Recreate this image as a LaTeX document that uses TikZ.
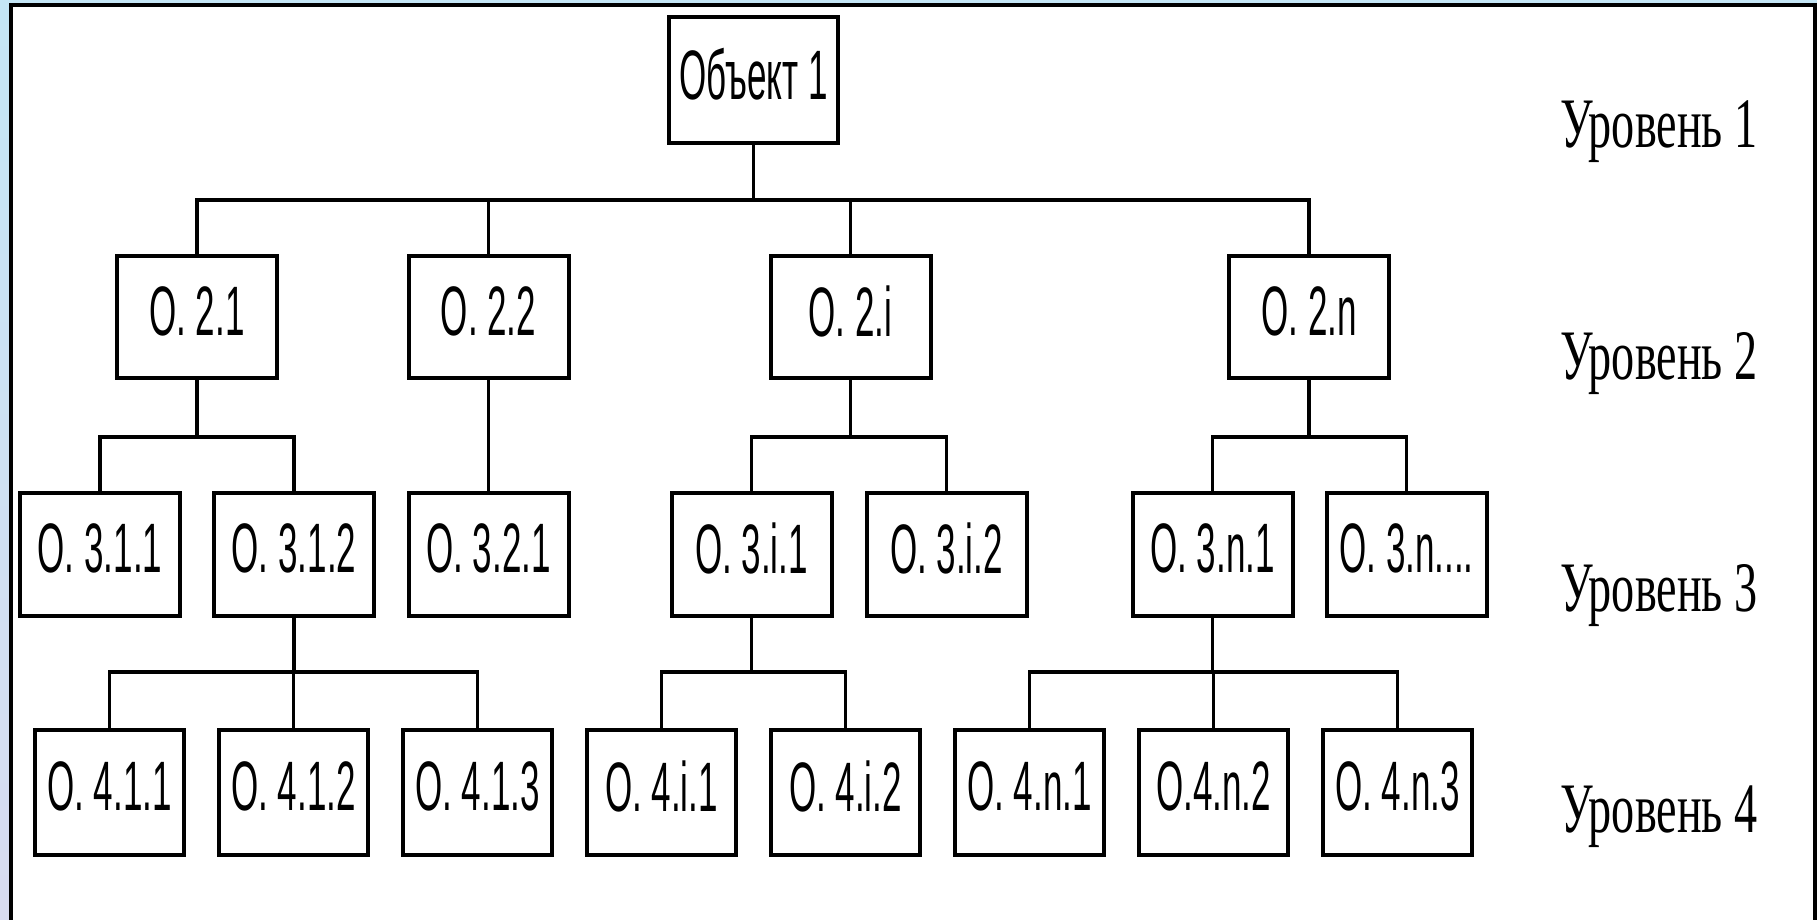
\documentclass[tikz,border=0pt]{standalone}
\usepackage{fontspec}
\setmainfont{Liberation Serif}
\newfontfamily\boxfont[FakeStretch=0.5]{Liberation Sans}
\newfontfamily\levelfont[FakeStretch=0.65]{Liberation Serif}
\usetikzlibrary{positioning}
\definecolor{bgtop}{HTML}{C4E6F6}
\definecolor{bgmid}{HTML}{88C2FC}
\definecolor{bgbot}{HTML}{D8DCF0}
\tikzset{
  obj/.style={draw, line width=4pt, fill=white, inner sep=0pt, text depth=12pt,
    font=\boxfont\fontsize{70}{80}\selectfont},
  objroot/.style={obj, minimum width=169pt, minimum height=126pt},
  objtwo/.style={obj, minimum width=160pt, minimum height=122pt},
  objthree/.style={obj, minimum width=160pt, minimum height=123pt},
  objfour/.style={obj, minimum width=149pt, minimum height=125pt},
  levellabel/.style={anchor=base west, inner sep=0pt, font=\levelfont\fontsize{71}{80}\selectfont},
  conn/.style={draw, line width=3.8pt},
}

\begin{document}
\begin{tikzpicture}[x=1pt, y=-1pt]
    \clip (0,0) rectangle (1817,920);
    \fill[bgtop] (0,0) rectangle (1817,920);
    \shade[top color=bgtop, middle color=bgmid, bottom color=bgbot] (0,0) rectangle (12,920);
    \draw[line width=4pt, fill=white] (11,5) rectangle (1814.5,940);

    % level 1
    \node[objroot] (obj) at (753.5,80) {Объект 1};

    % level 2
    \node[objtwo] (o21) at (197,317) {О. 2.1};
    \node[objtwo] (o22) at (488.5,317) {О. 2.2};
    \node[objtwo] (o2i) at (850.5,317) {О. 2.i};
    \node[objtwo] (o2n) at (1309,317) {О. 2.n};

    % level 3
    \node[objthree] (o311) at (100,554.5) {О. 3.1.1};
    \node[objthree, right=30pt of o311] (o312) {О. 3.1.2};
    \node[objthree] (o321) at (488.5,554.5) {О. 3.2.1};
    \node[objthree] (o3i1) at (751.5,554.5) {О. 3.i.1};
    \node[objthree, right=31pt of o3i1] (o3i2) {О. 3.i.2};
    \node[objthree] (o3n1) at (1212.5,554.5) {О. 3.n.1};
    \node[objthree, right=30pt of o3n1] (o3nx) {О. 3.n....};

    % level 4
    \begin{scope}[node distance=31pt]
    \node[objfour] (o411) at (109.5,792.5) {О. 4.1.1};
    \node[objfour, right=of o411] (o412) {О. 4.1.2};
    \node[objfour, right=of o412] (o413) {О. 4.1.3};
    \node[objfour, right=of o413] (o4i1) {О. 4.i.1};
    \node[objfour, right=of o4i1] (o4i2) {О. 4.i.2};
    \node[objfour, right=of o4i2] (o4n1) {О. 4.n.1};
    \node[objfour, right=of o4n1] (o4n2) {О.4.n.2};
    \node[objfour, right=of o4n2] (o4n3) {О. 4.n.3};
    \end{scope}

    % level labels
    \node[levellabel] (lv1) at (1560,148) {Уровень 1};
    \node[levellabel] (lv2) at (1560,379) {Уровень 2};
    \node[levellabel] (lv3) at (1560,611) {Уровень 3};
    \node[levellabel] (lv4) at (1560,832) {Уровень 4};

    % buses
    \coordinate (bus1) at (0,200);
    \coordinate (bus2) at (0,437);
    \coordinate (bus3) at (0,672);
    \coordinate (b1) at (obj.south |- bus1);
    \coordinate (b21) at (o21.south |- bus2);
    \coordinate (b2i) at (o2i.south |- bus2);
    \coordinate (b2n) at (o2n.south |- bus2);
    \coordinate (b312) at (o312.south |- bus3);
    \coordinate (b3i1) at (o3i1.south |- bus3);
    \coordinate (b3n1) at (o3n1.south |- bus3);

    \draw[conn] (obj.south) -- (b1);
    \foreach \c in {o21,o22,o2i,o2n} \draw[conn] (b1) -| (\c.north);

    \draw[conn] (o21.south) -- (b21);
    \foreach \c in {o311,o312} \draw[conn] (b21) -| (\c.north);
    \draw[conn] (o22) -- (o321);
    \draw[conn] (o2i.south) -- (b2i);
    \foreach \c in {o3i1,o3i2} \draw[conn] (b2i) -| (\c.north);
    \draw[conn] (o2n.south) -- (b2n);
    \foreach \c in {o3n1,o3nx} \draw[conn] (b2n) -| (\c.north);

    \draw[conn] (o312.south) -- (b312);
    \foreach \c in {o411,o412,o413} \draw[conn] (b312) -| (\c.north);
    \draw[conn] (o3i1.south) -- (b3i1);
    \foreach \c in {o4i1,o4i2} \draw[conn] (b3i1) -| (\c.north);
    \draw[conn] (o3n1.south) -- (b3n1);
    \foreach \c in {o4n1,o4n2,o4n3} \draw[conn] (b3n1) -| (\c.north);
  \end{tikzpicture}
\end{document}
